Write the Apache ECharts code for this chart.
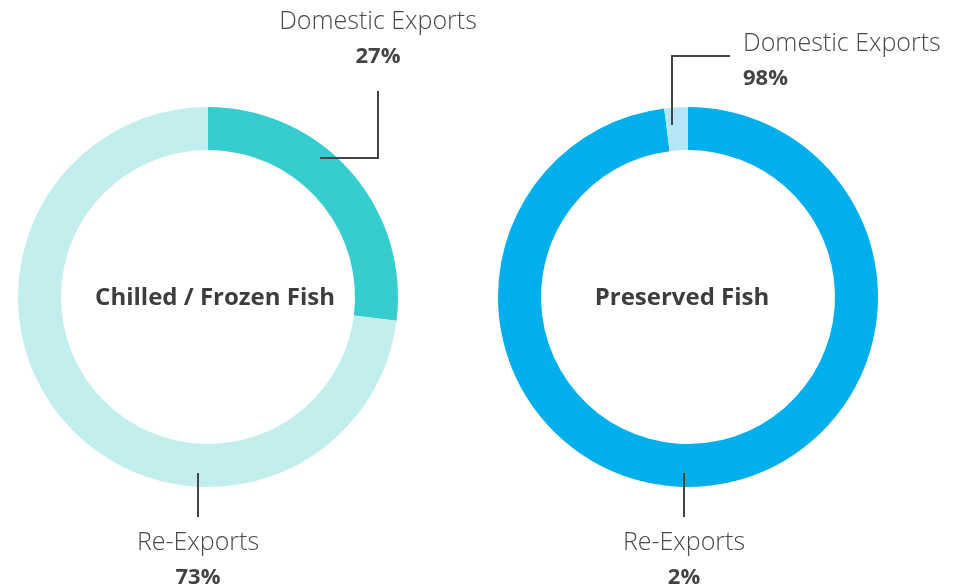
<!doctype html>
<html>
	<head>
		<meta charset="utf-8">
		<title></title>
		<script src="https://cdn.jsdelivr.net/npm/echarts@6/dist/echarts.min.js"></script>
		<style>
			html, body {
				margin: 0px;
				padding: 0px;
				background: #ffffff;
			}
			#chart {
				width: 959px;
				height: 588px;
			}
		</style>
	</head>

	<body>
		<div id="chart"></div>
	</body>

	<script type="text/javascript">
		//饼图标题
		var titles = ['Chilled / Frozen Fish', 'Preserved Fish'];
		//左图：类目名 / 数值
		var leftNames = ['Domestic Exports', 'Re-Exports'];
		var leftValues = [27, 73];
		//右图：类目名 / 数值（标签文字与图中一致）
		var rightNames = ['Re-Exports', 'Domestic Exports'];
		var rightValues = [98, 2];
		var rightLabelPct = ['2%', '98%'];
		var leftLabelPct = ['27%', '73%'];

		var leftColors = ['#35cdcd', '#c2eeee'];
		var rightColors = ['#00afec', '#b4e6f8'];

		//标签与引导线位置
		var labelPos = [
			[
				{ x: 378, y: 39, align: 'center', line: [[320, 158], [378, 158], [378, 91]] },
				{ x: 198, y: 560, align: 'center', line: [[198, 473], [198, 517]] }
			],
			[
				{ x: 684, y: 560, align: 'center', line: [[684, 473], [684, 517]] },
				{ x: 743, y: 61, align: 'left', line: [[672, 125], [672, 56], [730, 56]] }
			]
		];

		var byId = function(id) {
			return document.getElementById(id);
		};

		var buildData = function(names, values, pcts, colors) {
			var arr = [];
			for (var i = 0; i < names.length; i++) {
				arr.push({
					name: names[i],
					value: values[i],
					pct: pcts[i],
					itemStyle: { color: colors ? colors[i] : 'rgba(0,0,0,0)' }
				});
			}
			return arr;
		};

		var labelOpt = {
			show: true,
			position: 'outside',
			formatter: function(p) {
				return '{n|' + p.name + '}\n{p|' + p.data.pct + '}';
			},
			rich: {
				n: {
					fontFamily: 'Open Sans',
					fontWeight: 300,
					fontSize: 25,
					color: '#4a4a4a',
					lineHeight: 35
				},
				p: {
					fontFamily: 'Open Sans',
					fontWeight: 'bold',
					fontSize: 22,
					color: '#444444',
					lineHeight: 35
				}
			}
		};

		//环形图本体
		var ringSeries = function(center, data) {
			return {
				type: 'pie',
				z: 2,
				center: center,
				radius: [147, 190],
				startAngle: 90,
				clockwise: true,
				silent: true,
				label: { show: false },
				labelLine: { show: false },
				emphasis: { disabled: true },
				data: data
			};
		};

		//透明层，只负责标签和引导线（画在环形之上）
		var labelSeries = function(seriesIdx, center, data) {
			return {
				type: 'pie',
				z: 5,
				center: center,
				radius: [0, 178],
				startAngle: 90,
				clockwise: true,
				avoidLabelOverlap: false,
				silent: true,
				label: labelOpt,
				labelLine: {
					show: true,
					showAbove: true,
					lineStyle: { color: '#444444', width: 2 }
				},
				labelLayout: function(params) {
					var pos = labelPos[seriesIdx][params.dataIndex];
					return {
						x: pos.x,
						y: pos.y,
						align: pos.align,
						verticalAlign: 'middle',
						labelLinePoints: pos.line
					};
				},
				emphasis: { disabled: true },
				data: data
			};
		};

		var titleStyle = { fontFamily: 'Open Sans', fontWeight: 'bold', fontSize: 24, color: '#3d3d3d' };

		var chart = echarts.init(byId('chart'));
		chart.setOption({
			animation: false,
			title: [{
				text: titles[0],
				left: 215,
				top: 298,
				padding: 0,
				textAlign: 'center',
				textVerticalAlign: 'middle',
				textStyle: titleStyle
			}, {
				text: titles[1],
				left: 682,
				top: 298,
				padding: 0,
				textAlign: 'center',
				textVerticalAlign: 'middle',
				textStyle: titleStyle
			}],
			series: [
				ringSeries([208, 297], buildData(leftNames, leftValues, leftLabelPct, leftColors)),
				ringSeries([688, 297], buildData(rightNames, rightValues, rightLabelPct, rightColors)),
				labelSeries(0, [208, 297], buildData(leftNames, leftValues, leftLabelPct, null)),
				labelSeries(1, [688, 297], buildData(rightNames, rightValues, rightLabelPct, null))
			]
		});
	</script>

</html>
